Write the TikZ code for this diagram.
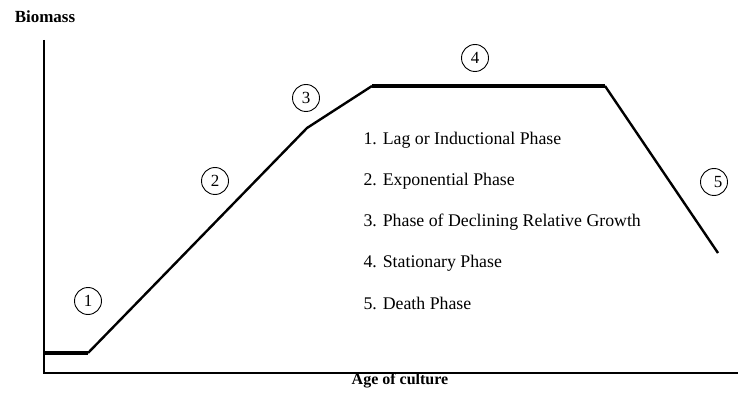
\documentclass[tikz,border=0pt]{standalone}
\usepackage{fontspec}
\setmainfont{Liberation Serif}
\begin{document}
\begin{tikzpicture}[
x=1pt, y=-1pt,
axis/.style={
        line width=1.4pt,
    },
   growth/.style = {
   line width = 2.4pt,
   line join=round,
   },
   plateau/.style = {
   line width = 3.6pt,
   },
   phasemark/.style = {
   draw,
   circle,
    minimum size=27pt,
    inner sep=0pt,
    line width = 0.9pt,
     font = \fontsize{17}{17}\selectfont,
   },
   legend/.style = {
   anchor=west,
   font = \fontsize{17.8}{17.8}\selectfont,
   },
 ]
\useasboundingbox (0,0) rectangle (738,395);

% axes
\coordinate (origin) at (44,373);
\coordinate (ytop) at (44,40);
\coordinate (xend) at (738,373);
\draw[axis] (ytop) -- (origin) -- (xend);
\node[font=\bfseries\fontsize{17}{17}\selectfont] (ylab) at (45,17) {Biomass};
\node[font=\bfseries\fontsize{16}{16}\selectfont] (xlab) at (400,381) {Age of culture};

% growth curve
\coordinate (lagend) at (88,353);
\coordinate (expend) at (307,128);
\coordinate (statstart) at (372,86);
\coordinate (statend) at (605,86);
\coordinate (deathend) at (718,253);
\draw[plateau] (44,353) -- (lagend);
\draw[growth] (lagend) -- (expend) -- (statstart);
\draw[plateau] (statstart) -- (statend);
\draw[growth] (statend) -- (deathend);

% phase numbers
\node[phasemark] (p1) at (88,301) {1};
\node[phasemark] (p2) at (215,181) {2};
\node[phasemark] (p3) at (306,98) {3};
\node[phasemark] (p4) at (475,58) {4};
\node[phasemark] (p5) at (714,182) {\hspace{8pt}5};

% legend
\node[legend] (l1) at (360,140) {1. Lag or Inductional Phase};
\node[legend] (l2) at (360,181) {2. Exponential Phase};
\node[legend] (l3) at (360,222) {3. Phase of Declining Relative Growth};
\node[legend] (l4) at (360,263) {4. Stationary Phase};
\node[legend] (l5) at (360,303) {5. Death Phase};
\end{tikzpicture}
\end{document}
